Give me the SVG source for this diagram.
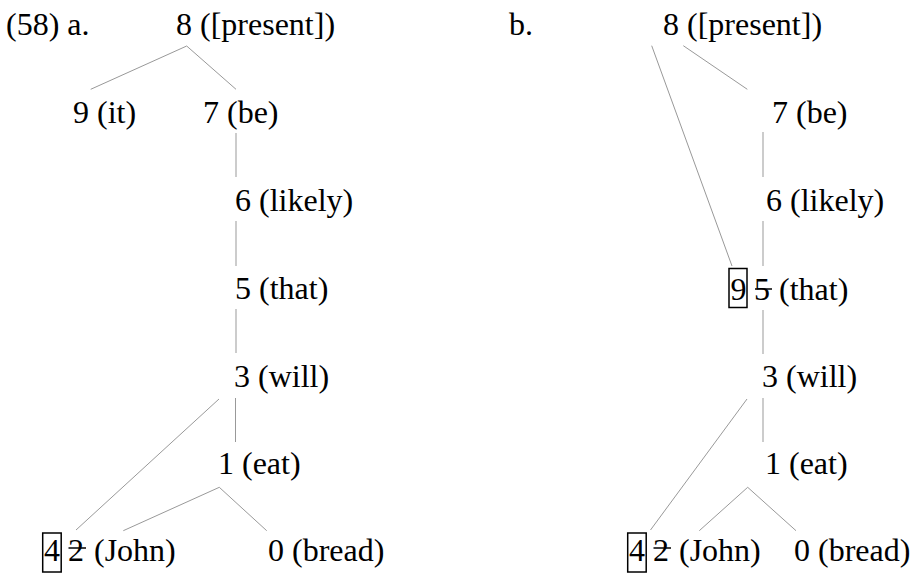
<svg xmlns="http://www.w3.org/2000/svg" width="912" height="574" viewBox="0 0 912 574">
  <style>
    .t { font-family: 'Liberation Serif', 'Times New Roman', serif; font-size: 32px; fill: #000; }
    .edge { stroke: #999; stroke-width: 1; fill: none; }
    .box { stroke: #000; stroke-width: 1.5; fill: none; }
    .strike { stroke: #000; stroke-width: 1.5; }
  </style>
  <rect width="912" height="574" fill="#fff"/>

  <g class="t">
  <!-- tree (a) -->
  <text id="label-a" x="6" y="35">(58) a.</text>
  <g id="a-n8"><text x="176" y="35">8 ([present])</text></g>
  <g id="a-n9"><text x="73" y="123">9 (it)</text></g>
  <g id="a-n7"><text x="203" y="123">7 (be)</text></g>
  <g id="a-n6"><text x="235" y="211">6 (likely)</text></g>
  <g id="a-n5"><text x="235" y="299">5 (that)</text></g>
  <g id="a-n3"><text x="234" y="387">3 (will)</text></g>
  <g id="a-n1"><text x="218" y="474">1 (eat)</text></g>
  <g id="a-n2">
    <rect class="box" x="42.7" y="533" width="18.5" height="39"/>
    <text x="44" y="561">4</text>
    <text x="68" y="561">2</text>
    <line class="strike" x1="68.5" y1="548" x2="86" y2="548"/>
    <text x="94" y="561">(John)</text>
  </g>
  <g id="a-n0"><text x="268" y="561">0 (bread)</text></g>

  <!-- tree (b) -->
  <text id="label-b" x="509" y="35">b.</text>
  <g id="b-n8"><text x="663" y="35">8 ([present])</text></g>
  <g id="b-n7"><text x="772" y="123">7 (be)</text></g>
  <g id="b-n6"><text x="766" y="211">6 (likely)</text></g>
  <g id="b-n5">
    <rect class="box" x="729" y="268.5" width="18" height="39"/>
    <text x="730.5" y="300">9</text>
    <text x="754" y="300">5</text>
    <line class="strike" x1="755" y1="289" x2="772" y2="289"/>
    <text x="779" y="300">(that)</text>
  </g>
  <g id="b-n3"><text x="762" y="387">3 (will)</text></g>
  <g id="b-n1"><text x="765" y="474">1 (eat)</text></g>
  <g id="b-n2">
    <rect class="box" x="627.7" y="533" width="18.5" height="39"/>
    <text x="629" y="561">4</text>
    <text x="653" y="561">2</text>
    <line class="strike" x1="653.5" y1="548" x2="671" y2="548"/>
    <text x="679" y="561">(John)</text>
  </g>
  <g id="b-n0"><text x="794" y="561">0 (bread)</text></g>
  </g>

  <g id="a-edges">
    <line class="edge" x1="186.7" y1="46" x2="90.7" y2="89.3"/>
    <line class="edge" x1="186.7" y1="46" x2="236" y2="89.3"/>
    <line class="edge" x1="236" y1="133" x2="236" y2="177"/>
    <line class="edge" x1="236" y1="221" x2="236" y2="266"/>
    <line class="edge" x1="236" y1="309" x2="236" y2="353"/>
    <line class="edge" x1="235.5" y1="398" x2="235.5" y2="442"/>
    <line class="edge" x1="219" y1="399" x2="76" y2="530"/>
    <line class="edge" x1="219.3" y1="487.3" x2="123.3" y2="530.7"/>
    <line class="edge" x1="219.3" y1="487.3" x2="266.7" y2="530.7"/>
  </g>

  <g id="b-edges">
    <line class="edge" x1="651.7" y1="45.7" x2="732" y2="266"/>
    <line class="edge" x1="683.3" y1="45.7" x2="747.3" y2="89.3"/>
    <line class="edge" x1="763" y1="132" x2="763" y2="177"/>
    <line class="edge" x1="763" y1="221" x2="763" y2="266"/>
    <line class="edge" x1="763" y1="310" x2="763" y2="354"/>
    <line class="edge" x1="763" y1="398" x2="763" y2="442"/>
    <line class="edge" x1="747" y1="399" x2="650.5" y2="530"/>
    <line class="edge" x1="747.7" y1="487.3" x2="699.3" y2="530.7"/>
    <line class="edge" x1="747.7" y1="487.3" x2="796" y2="530.7"/>
  </g>
</svg>
